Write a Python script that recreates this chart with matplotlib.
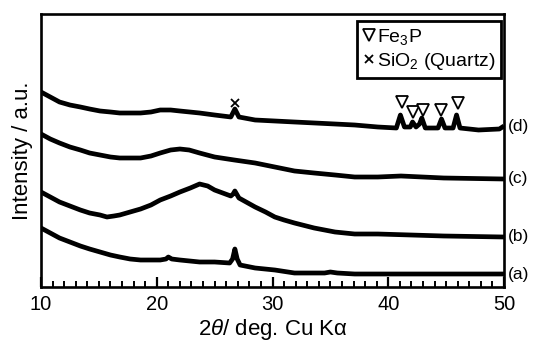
import matplotlib
matplotlib.use("Agg")
import matplotlib.pyplot as plt
from matplotlib.lines import Line2D
from matplotlib.ticker import MultipleLocator

plt.rcParams['font.family'] = ['Liberation Sans', 'DejaVu Sans']
plt.rcParams['mathtext.fontset'] = 'custom'
plt.rcParams['mathtext.rm'] = 'Liberation Sans'
plt.rcParams['mathtext.it'] = 'Liberation Sans:italic'

# ---- data (intensity in arbitrary units, offset patterns) ----
xa = [10, 10.8, 11.6, 12.5, 13.4, 14.2, 15.1, 16.0, 16.8, 17.7, 18.6, 19.5, 20.3, 20.8, 21.0, 21.3,
      22.0, 23.7, 25.0, 26.3, 26.55, 26.75, 26.95, 27.2, 28.5, 30.2, 31.9, 33.6, 34.5, 35.0, 35.6,
      37.1, 40, 45, 50]
ya = [59, 54, 49, 45, 41, 38, 35, 32, 30, 28, 27, 27, 27, 28, 30, 28,
      27, 25, 25, 24, 28, 38, 28, 22, 19, 17, 14, 14, 14, 15, 14,
      13, 13, 13, 13]

xb = [10, 10.8, 11.6, 12.5, 13.4, 14.2, 15.1, 15.7, 16.3, 16.8, 17.7, 18.6, 19.5, 20.3, 21.2,
      22.0, 22.9, 23.7, 24.4, 25.0, 26.4, 26.6, 26.75, 26.9, 27.1, 28.5, 29.4, 30.2, 31.0, 31.9,
      33.6, 35.4, 37.1, 39.1, 44.8, 50]
yb = [95, 90, 85, 81, 77, 74, 72, 70, 71, 72, 75, 78, 82, 87, 91,
      95, 99, 103, 101, 97, 91, 93, 96, 93, 89, 80, 75, 70, 67, 64,
      59, 55, 53, 53, 51, 50]

xc = [10, 10.8, 11.6, 12.5, 13.4, 14.2, 15.1, 16.0, 16.8, 17.7, 18.6, 19.5, 20.3, 21.2, 22.0,
      22.8, 23.7, 25.0, 26.7, 28.5, 30.2, 31.9, 33.6, 35.4, 37.1, 39.1, 41.1, 44.8, 50]
yc = [153, 148, 144, 140, 137, 134, 132, 130, 129, 129, 129, 131, 134, 137, 138,
      137, 134, 130, 127, 124, 120, 116, 114, 112, 110, 110, 111, 109, 108]

xd = [10, 10.8, 11.6, 12.5, 13.4, 14.2, 15.1, 16.0, 16.8, 17.7, 18.6, 19.5, 20.3, 21.2, 22.0,
      23.7, 25.0, 26.4, 26.75, 27.1, 28.5, 31.9, 35.4, 37.1, 39.1, 40.7, 41.05, 41.4, 41.9,
      42.1, 42.4, 42.7, 42.9, 43.2, 44.3, 44.6, 44.9, 45.6, 45.9, 46.2, 47.8, 49.6, 50]
yd = [195, 190, 185, 182, 180, 178, 176, 175, 174, 174, 174, 175, 177, 177, 176,
      174, 172, 170, 178, 170, 167, 165, 163, 162, 160, 159, 172, 160, 160,
      165, 160, 163, 169, 159, 159, 168, 159, 159, 172, 159, 157, 158, 161]

series_x = [xa, xb, xc, xd]
series_y = [ya, yb, yc, yd]
series_labels = ['(a)', '(b)', '(c)', '(d)']

fe3p_x = [41.2, 42.1, 43.0, 44.6, 46.0]
fe3p_y = [185, 175, 177, 177, 184]
quartz_x = [26.76]
quartz_y = [184]

# ---- figure ----
fig = plt.figure(figsize=(5.35, 3.44), dpi=100)
ax = fig.add_axes([41/535, 57/344, 463/535, 273/344])

for x, y, lab in zip(series_x, series_y, series_labels):
    ax.plot(x, y, color='black', lw=3.4, solid_joinstyle='round', solid_capstyle='butt')
    ax.annotate(lab, xy=(1.0, y[-1]), xycoords=('axes fraction', 'data'),
                xytext=(3, 0), textcoords='offset points',
                ha='left', va='center', fontsize=12.5, annotation_clip=False)

ax.plot(fe3p_x, fe3p_y, ls='none', marker='v', ms=9, mfc='white', mec='black', mew=1.3)
ax.plot(quartz_x, quartz_y, ls='none', marker='x', ms=6, mec='black', mew=1.3)

ax.set_xlim(10, 50)
ax.set_ylim(0, 273)
ax.set_yticks([])
ax.xaxis.set_major_locator(MultipleLocator(10))
ax.xaxis.set_minor_locator(MultipleLocator(1))
ax.tick_params(axis='x', which='major', direction='in', length=7, width=1.6,
               labelsize=14.5, pad=6, top=False)
ax.tick_params(axis='x', which='minor', direction='in', length=4, width=1.4, top=False)
for s in ax.spines.values():
    s.set_linewidth(1.9)

ax.set_xlabel(r'2$\it{\theta}$/ deg. Cu K$\mathrm{\alpha}$', fontsize=16, labelpad=2)
ax.set_ylabel('Intensity / a.u.', fontsize=16, labelpad=6)

handles = [Line2D([], [], ls='none', marker='v', ms=9, mfc='white', mec='black', mew=1.3),
           Line2D([], [], ls='none', marker='x', ms=6, mec='black', mew=1.3)]
leg = ax.legend(handles, ['Fe$_3$P', 'SiO$_2$ (Quartz)'], loc='upper right',
                bbox_to_anchor=(0.994, 0.974), borderaxespad=0, frameon=True,
                fancybox=False, framealpha=1, fontsize=14, handlelength=0.55,
                handletextpad=0.15, borderpad=0.3, labelspacing=0.2)
leg.get_frame().set_edgecolor('black')
leg.get_frame().set_linewidth(2.0)

fig.savefig('out.png', dpi=100)
